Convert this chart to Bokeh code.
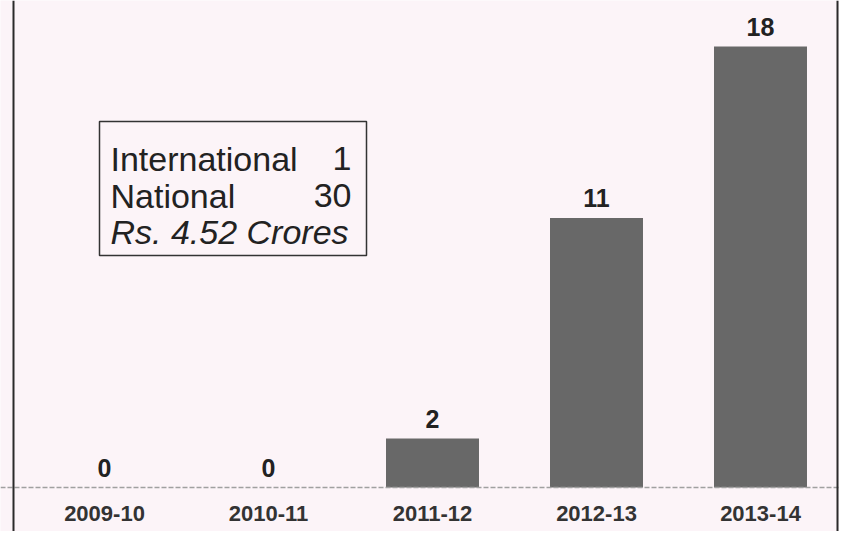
from bokeh.plotting import figure
from bokeh.models import Range1d, Span, BoxAnnotation, Label, ColumnDataSource
from bokeh.core.properties import value
from bokeh.embed import file_html
from bokeh.resources import INLINE

# ---- data ----
years = ["2009-10", "2010-11", "2011-12", "2012-13", "2013-14"]
counts = [0, 0, 2, 11, 18]
legend_lines = ["International", "National"]
legend_values = ["1", "30"]
legend_total = "Rs. 4.52 Crores"

# ---- geometry (pixels) ----
W, H = 839, 531
X_FIRST_PX = 104       # pixel column of first category centre
X_STEP_PX = 164        # pixels between categories
BASE_PX = 487          # pixel row of zero
PX_PER_UNIT = 24.5

def px_x(fx):
    return (fx - X_FIRST_PX) / X_STEP_PX

def px_y(fy):
    return (BASE_PX - fy) / PX_PER_UNIT

BG = "#fcf4f8"

p = figure(width=W, height=H, output_backend="svg", toolbar_location=None,
           x_range=Range1d(px_x(0), px_x(W)),
           y_range=Range1d(px_y(H), px_y(0)),
           min_border_left=0, min_border_right=0, min_border_top=0, min_border_bottom=0,
           background_fill_color=BG, border_fill_color=BG, outline_line_color=None)
p.xaxis.visible = False
p.yaxis.visible = False
p.xgrid.visible = False
p.ygrid.visible = False

idx = list(range(len(years)))
src = ColumnDataSource(dict(i=idx, year=years, count=counts, label=[str(c) for c in counts]))

p.vbar(x="i", top="count", bottom=0, width=0.567, source=src,
       fill_color="#686868", line_color=None)

p.text(x="i", y="count", text="label", source=src, y_offset=-11,
       text_align="center", text_baseline="bottom",
       text_font=value("Liberation Sans"), text_font_size="25px",
       text_font_style="bold", text_color="#222222")

# category labels under the baseline
lab_y = [px_y(513)] * len(years)
p.text(x=idx, y=lab_y, text=years, text_align="center", text_baseline="middle",
       text_font=value("Liberation Sans"),
       text_font_size="22px", text_font_style="bold", text_color="#333333")

# baseline
p.add_layout(Span(location=0, dimension="width", line_color="#a0a0a0",
                  line_width=1.5, line_dash="5 2"))
# side borders
p.add_layout(Span(location=px_x(13), dimension="height", line_color="#2a2a2a", line_width=2))
p.add_layout(Span(location=px_x(837), dimension="height", line_color="#2a2a2a", line_width=2))

# legend box
p.add_layout(BoxAnnotation(left=px_x(99), right=px_x(366), top=px_y(121), bottom=px_y(255),
                           fill_color=None, fill_alpha=0, line_color="#333333",
                           line_alpha=1, line_width=1.5))
font = "Liberation Sans"
tx = px_x(110)
rx = px_x(351)
for i, (name, val) in enumerate(zip(legend_lines, legend_values)):
    yb = px_y(158 + 37 * i)
    p.add_layout(Label(x=tx, y=yb, text=name, text_font=font, text_font_size="34px",
                       text_color="#222222", text_baseline="alphabetic"))
    p.add_layout(Label(x=rx, y=yb, text=val, text_font=font, text_font_size="34px",
                       text_color="#222222", text_baseline="alphabetic", text_align="right"))
p.add_layout(Label(x=tx, y=px_y(231), text=legend_total, text_font=font, text_font_size="34px",
                   text_font_style="italic", text_color="#222222", text_baseline="alphabetic"))

open("out.html", "w").write(file_html(p, INLINE))
